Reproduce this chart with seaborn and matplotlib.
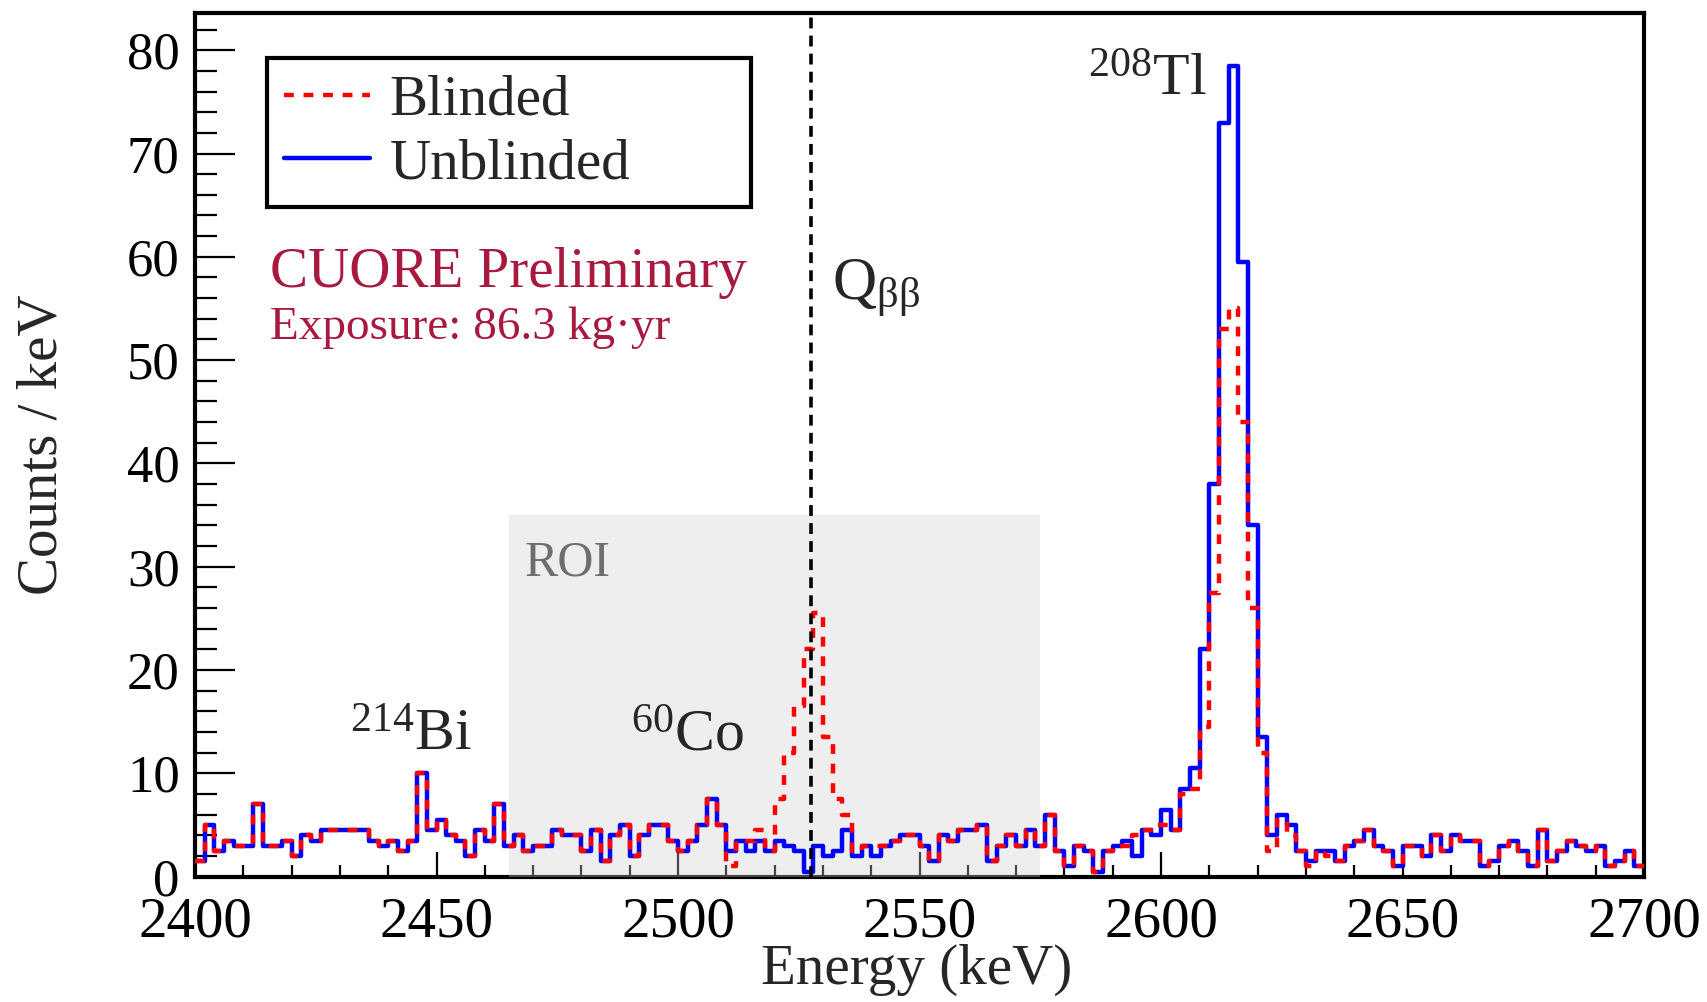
import pandas as pd
import matplotlib
matplotlib.use("Agg")
import matplotlib.pyplot as plt
from matplotlib.lines import Line2D
from matplotlib.ticker import MultipleLocator
import seaborn as sns

# 2 keV bins from 2400 to 2700 keV, counts / keV
bin_edges = list(range(2400, 2702, 2))

unblinded = [
    1.5, 5.0, 2.5, 3.5, 3.0, 3.0, 7.0, 3.0, 3.0, 3.5,
    2.0, 4.0, 3.5, 4.5, 4.5, 4.5, 4.5, 4.5, 3.5, 3.0,
    3.5, 2.5, 3.5, 10.0, 4.5, 5.5, 4.0, 3.5, 2.0, 4.5,
    3.5, 7.0, 3.0, 4.0, 2.5, 3.0, 3.0, 4.5, 4.0, 4.0,
    2.5, 4.5, 1.5, 4.0, 5.0, 2.0, 4.0, 5.0, 5.0, 3.5,
    2.5, 3.5, 5.0, 7.5, 5.0, 2.5, 3.5, 2.5, 3.5, 2.5,
    3.5, 3.0, 2.5, 0.5, 3.0, 2.0, 2.5, 4.5, 2.0, 3.0,
    2.0, 3.0, 3.5, 4.0, 4.0, 3.0, 1.5, 4.0, 3.5, 4.5,
    4.5, 5.0, 1.5, 3.0, 4.0, 3.0, 4.5, 3.0, 6.0, 2.5,
    1.0, 3.0, 2.5, 0.5, 2.5, 3.0, 3.5, 2.0, 4.5, 4.0,
    6.5, 4.5, 8.5, 10.5, 22.0, 38.0, 73.0, 78.5, 59.5, 34.0,
    13.5, 4.0, 6.0, 5.0, 2.5, 1.5, 2.5, 2.5, 1.5, 3.0,
    3.5, 4.5, 3.0, 2.5, 1.0, 3.0, 3.0, 2.0, 4.0, 2.5,
    4.0, 3.5, 3.5, 1.0, 1.5, 3.0, 3.5, 2.5, 1.0, 4.5,
    1.5, 2.5, 3.5, 3.0, 2.5, 3.0, 1.0, 1.5, 2.5, 1.0,
]

blinded = [
    1.5, 5.0, 2.5, 3.5, 3.0, 3.0, 7.0, 3.0, 3.0, 3.5,
    2.0, 4.0, 3.5, 4.5, 4.5, 4.5, 4.5, 4.5, 3.5, 3.0,
    3.5, 2.5, 3.5, 10.0, 4.5, 5.5, 4.0, 3.5, 2.0, 4.5,
    3.5, 7.0, 3.0, 4.0, 2.5, 3.0, 3.0, 4.5, 4.0, 4.0,
    2.5, 4.5, 1.5, 4.0, 5.0, 2.0, 4.0, 5.0, 5.0, 3.5,
    2.5, 3.5, 5.0, 7.5, 5.0, 1.0, 3.5, 3.5, 4.5, 2.5,
    7.5, 12.0, 16.5, 22.0, 25.5, 13.5, 7.5, 6.0, 2.5, 3.0,
    3.0, 3.0, 3.5, 4.0, 4.0, 3.0, 1.5, 4.0, 3.5, 4.5,
    4.5, 5.0, 1.5, 3.0, 4.0, 3.0, 4.5, 3.0, 6.0, 2.5,
    1.0, 3.0, 2.5, 0.5, 2.5, 3.0, 3.0, 4.0, 4.5, 5.0,
    5.0, 4.5, 8.0, 8.5, 14.5, 27.5, 53.0, 55.0, 44.0, 26.0,
    12.0, 2.5, 5.5, 4.0, 2.5, 1.0, 2.5, 2.0, 1.5, 3.0,
    3.5, 4.5, 3.0, 2.5, 1.0, 3.0, 3.0, 2.0, 4.0, 2.5,
    4.0, 3.5, 3.5, 1.0, 1.5, 3.0, 3.5, 2.5, 1.0, 4.5,
    1.5, 2.5, 3.5, 3.0, 2.5, 3.0, 1.0, 1.5, 2.5, 1.0,
]

q_bb = 2527.5
roi = (2465, 2575)
roi_top = 35
y_max = 83.6

sns.set_theme(style="white")
plt.rcParams["font.family"] = ["Liberation Serif", "DejaVu Serif"]
plt.rcParams["mathtext.fontset"] = "custom"
plt.rcParams["mathtext.rm"] = "Liberation Serif"

centers = [e + 1.0 for e in bin_edges[:-1]]
df = pd.DataFrame({"energy": centers, "unbl": unblinded, "bl": blinded})

fig = plt.figure(figsize=(17.07, 10.02), dpi=100)
ax = fig.add_axes([195 / 1707, 1 - 876.7 / 1002, (1644 - 195) / 1707, (876.7 - 13) / 1002])

sns.histplot(data=df, x="energy", weights="unbl", bins=bin_edges,
             element="step", fill=False, color="#0000ff", linewidth=3.2,
             ax=ax, zorder=4)
sns.histplot(data=df, x="energy", weights="bl", bins=bin_edges,
             element="step", fill=False, color="#ff0000", linewidth=3.2,
             linestyle=(0, (2.2, 2.2)), ax=ax, zorder=5)

ax.axvspan(roi[0], roi[1], ymin=0, ymax=roi_top / y_max, color="#d0d0d0",
           alpha=0.34, lw=0, zorder=3)
ax.axvline(q_bb, color="black", lw=2.6, ls=(0, (3, 2)), zorder=6)

ax.set_xlim(2400, 2700)
ax.set_ylim(0, y_max)
ax.xaxis.set_major_locator(MultipleLocator(50))
ax.xaxis.set_minor_locator(MultipleLocator(10))
ax.yaxis.set_major_locator(MultipleLocator(10))
ax.yaxis.set_minor_locator(MultipleLocator(2))
ax.tick_params(axis="both", which="both", direction="in", colors="black", width=1.6)
ax.tick_params(axis="x", which="major", length=18, pad=14, labelsize=41)
ax.tick_params(axis="x", which="minor", length=9)
ax.tick_params(axis="y", which="major", length=29, pad=11, labelsize=38)
ax.tick_params(axis="y", which="minor", length=16)
ax.xaxis.set_ticks_position("bottom")
ax.yaxis.set_ticks_position("left")
for s in ax.spines.values():
    s.set_linewidth(3)
    s.set_color("black")

ax.set_xlabel("Energy (keV)", fontsize=41)
ax.set_ylabel("Counts / keV", fontsize=41)
ax.xaxis.set_label_coords(0.498, -0.078)
ax.yaxis.set_label_coords(-0.087, 0.5)
ax.grid(False)

crimson = "#a8183f"
ax.text(2415.6, 57.1, "CUORE Preliminary", fontsize=41, color=crimson, va="baseline")
ax.text(2415.6, 52.0, "Exposure: 86.3 kg\u00b7yr", fontsize=34, color=crimson, va="baseline")
ax.text(2468.3, 29.2, "ROI", fontsize=36, color="#6e6e6e", va="baseline", zorder=7)
ax.text(2432.1, 12.2, r"$\mathregular{^{214}Bi}$", fontsize=43, va="baseline")
ax.text(2490.3, 12.2, r"$\mathregular{^{60}Co}$", fontsize=43, va="baseline", zorder=7)
ax.text(2584.8, 75.6, r"$\mathregular{^{208}Tl}$", fontsize=43, va="baseline")
ax.text(2531.8, 55.9, r"$\mathregular{Q_{\beta\beta}}$", fontsize=44, va="baseline")

handles = [
    Line2D([], [], color="#ff0000", lw=3.2, ls=(0, (2.2, 2.2))),
    Line2D([], [], color="#0000ff", lw=3.2),
]
leg = ax.legend(handles, ["Blinded", "Unblinded"], loc="upper left",
                bbox_to_anchor=(0.0497, 0.778, 0.334, 0.17), mode="expand",
                fontsize=41, frameon=True, fancybox=False, framealpha=1,
                edgecolor="black", borderaxespad=0, handlelength=1.5,
                handletextpad=0.35, borderpad=0.3, labelspacing=0.2)
leg.get_frame().set_linewidth(3)
leg.set_zorder(10)

fig.savefig("out.png", dpi=100)
